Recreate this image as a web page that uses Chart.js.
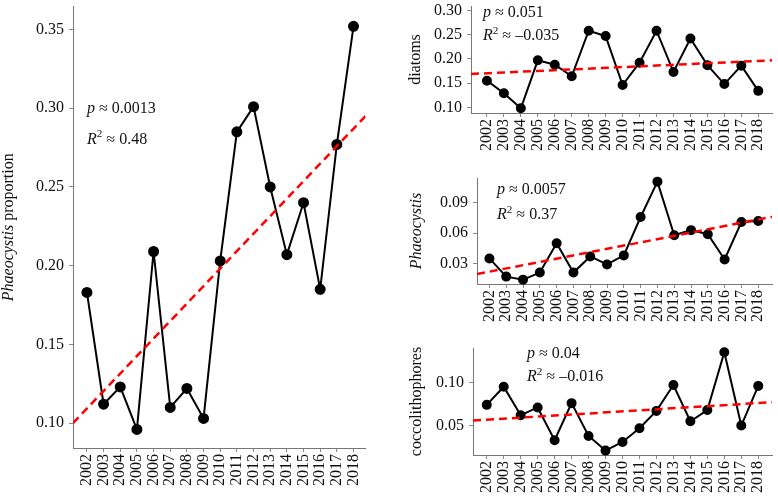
<!DOCTYPE html>
<html>
<head>
<meta charset="utf-8">
<script src="https://cdn.jsdelivr.net/npm/chart.js@4.4.0/dist/chart.umd.min.js"></script>
<style>
  body { margin: 0; background: #fff; }
  #wrap { position: relative; width: 778px; height: 500px; overflow: hidden; }
  canvas { position: absolute; }
</style>
</head>
<body>
<div id="wrap">
  <canvas id="main" width="372" height="500" style="left:0;top:0"></canvas>
  <canvas id="diat" width="378" height="165" style="left:400px;top:0"></canvas>
  <canvas id="phaeo" width="378" height="165" style="left:400px;top:165px"></canvas>
  <canvas id="cocco" width="378" height="170" style="left:400px;top:330px"></canvas>
</div>
<script>
// data
const years = [2002, 2003, 2004, 2005, 2006, 2007, 2008, 2009, 2010, 2011, 2012, 2013, 2014, 2015, 2016, 2017, 2018];

const phaeoProportion = [0.183, 0.112, 0.123, 0.096, 0.209, 0.110, 0.122, 0.103, 0.203, 0.285, 0.301, 0.250, 0.207, 0.240, 0.185, 0.277, 0.352];
const diatoms = [0.155, 0.129, 0.098, 0.197, 0.188, 0.164, 0.258, 0.247, 0.146, 0.192, 0.258, 0.173, 0.242, 0.187, 0.148, 0.186, 0.134];
const phaeocystis = [0.035, 0.017, 0.014, 0.021, 0.050, 0.021, 0.037, 0.029, 0.038, 0.076, 0.111, 0.058, 0.063, 0.059, 0.034, 0.071, 0.072];
const coccolithophores = [0.074, 0.095, 0.062, 0.071, 0.033, 0.076, 0.038, 0.021, 0.031, 0.047, 0.067, 0.097, 0.055, 0.068, 0.135, 0.050, 0.096];

// fitted trend value at first and last year
const trendProportion = [0.1093, 0.287];
const trendDiatoms = [0.1703, 0.1957];
const trendPhaeocystis = [0.0219, 0.0735];
const trendCocco = [0.0568, 0.0761];

const statsProportion = ['0.0013', '0.48'];
const statsDiatoms = ['0.051', '\u20130.035'];
const statsPhaeocystis = ['0.0057', '0.37'];
const statsCocco = ['0.04', '\u20130.016'];

const FONT = "'Liberation Serif', 'DejaVu Serif', serif";
const SIZE = 16;

function trendAt(x, t) {
    return t[0] + (t[1] - t[0]) * (x - years[0]) / (years[years.length - 1] - years[0]);
}

function partsWidth(ctx, parts, size) {
    let w = 0;
    parts.forEach(p => {
        ctx.font = (p.italic ? 'italic ' : '') + (p.sup ? size * 0.7 : size) + 'px ' + FONT;
        w += ctx.measureText(p.text).width;
    });
    return w;
}

function drawRich(ctx, x, y, parts, size) {
    let cx = x;
    parts.forEach(p => {
        const s = p.sup ? size * 0.7 : size;
        ctx.font = (p.italic ? 'italic ' : '') + s + 'px ' + FONT;
        ctx.fillText(p.text, cx, p.sup ? y - size * 0.33 : y);
        cx += ctx.measureText(p.text).width;
    });
}

function makePanel(id, cfg) {
    const points = years.map((yr, i) => ({ x: yr, y: cfg.values[i] }));
    const trend = [cfg.xMin, cfg.xMax].map(x => ({ x: x, y: trendAt(x, cfg.trend) }));

    const labelPlugin = {
        id: 'labels',
        afterDraw(chart) {
            const ctx = chart.ctx;
            const area = chart.chartArea;
            ctx.save();
            ctx.fillStyle = '#111';
            ctx.textBaseline = 'middle';
            ctx.textAlign = 'left';
            // rotated y title
            const tw = partsWidth(ctx, cfg.title, SIZE);
            ctx.save();
            ctx.translate(cfg.titleX, (area.top + area.bottom) / 2);
            ctx.rotate(-Math.PI / 2);
            drawRich(ctx, -tw / 2, 0, cfg.title, SIZE);
            ctx.restore();
            // p and R^2
            const ax = area.left + cfg.note[0];
            const ay = area.top + cfg.note[1];
            drawRich(ctx, ax, ay, [{ text: 'p', italic: true }, { text: ' \u2248 ' + cfg.stats[0] }], SIZE);
            drawRich(ctx, ax, ay + cfg.note[2], [{ text: 'R', italic: true }, { text: '2', sup: true }, { text: ' \u2248 ' + cfg.stats[1] }], SIZE);
            ctx.restore();
        }
    };

    new Chart(document.getElementById(id), {
        type: 'line',
        data: {
            datasets: [{
                data: trend,
                borderColor: '#ff0000',
                borderWidth: 2.5,
                borderDash: [8, 5],
                pointRadius: 0,
                fill: false
            }, {
                data: points,
                borderColor: '#000',
                borderWidth: 2,
                pointRadius: cfg.radius,
                pointBackgroundColor: '#000',
                pointBorderColor: '#000',
                tension: 0,
                fill: false,
                clip: false
            }]
        },
        options: {
            responsive: false,
            animation: false,
            events: [],
            layout: { padding: { left: 0, top: cfg.padTop, right: cfg.padRight, bottom: 0 } },
            plugins: { legend: { display: false }, tooltip: { enabled: false } },
            scales: {
                x: {
                    type: 'linear',
                    min: cfg.xMin,
                    max: cfg.xMax,
                    border: { display: true, color: '#777', width: 1 },
                    grid: { display: true, drawOnChartArea: false, drawTicks: true, tickLength: 4, color: '#888' },
                    ticks: {
                        stepSize: 1,
                        includeBounds: false,
                        autoSkip: false,
                        minRotation: 90,
                        maxRotation: 90,
                        padding: 2,
                        color: '#111',
                        font: { family: FONT, size: SIZE },
                        callback: v => {
                            const i = years.indexOf(v);
                            return i >= 0 ? String(years[i]) : '';
                        }
                    },
                    afterFit: axis => {
                        axis.height = cfg.xAxisH;
                        axis.paddingLeft = 0;
                        axis.paddingRight = 0;
                    }
                },
                y: {
                    min: cfg.yMin,
                    max: cfg.yMax,
                    border: { display: true, color: '#777', width: 1 },
                    grid: { display: true, drawOnChartArea: false, drawTicks: true, tickLength: 4, color: '#888' },
                    ticks: {
                        stepSize: cfg.yStep,
                        includeBounds: false,
                        padding: 5,
                        color: '#111',
                        font: { family: FONT, size: SIZE },
                        callback: v => v.toFixed(2)
                    },
                    afterFit: axis => {
                        axis.width = cfg.yAxisW;
                        axis.paddingTop = 0;
                        axis.paddingBottom = 0;
                    }
                }
            }
        },
        plugins: [labelPlugin]
    });
}

makePanel('main', {
    values: phaeoProportion, trend: trendProportion, stats: statsProportion,
    xMin: 2001.164, xMax: 2018.72, yMin: 0.0842, yMax: 0.3646, yStep: 0.05,
    yAxisW: 73, xAxisH: 52, padTop: 5, padRight: 5, radius: 4.5,
    title: [{ text: 'Phaeocystis', italic: true }, { text: ' proportion' }], titleX: 9,
    note: [14, 102, 31]
});

makePanel('diat', {
    values: diatoms, trend: trendDiatoms, stats: statsDiatoms,
    xMin: 2001.06, xMax: 2018.81, yMin: 0.0883, yMax: 0.309, yStep: 0.05,
    yAxisW: 71, xAxisH: 52, padTop: 5, padRight: 0, radius: 4,
    title: [{ text: 'diatoms' }], titleX: 16,
    note: [12, 7, 23]
});

makePanel('phaeo', {
    values: phaeocystis, trend: trendPhaeocystis, stats: statsPhaeocystis,
    xMin: 2001.26, xMax: 2018.82, yMin: 0.0097, yMax: 0.1146, yStep: 0.03,
    yAxisW: 77, xAxisH: 46, padTop: 13, padRight: 0, radius: 4,
    title: [{ text: 'Phaeocystis', italic: true }], titleX: 17,
    note: [20, 12, 25]
});

makePanel('cocco', {
    values: coccolithophores, trend: trendCocco, stats: statsCocco,
    xMin: 2001.19, xMax: 2018.81, yMin: 0.0159, yMax: 0.1399, yStep: 0.05,
    yAxisW: 73, xAxisH: 45, padTop: 18, padRight: 0, radius: 4,
    title: [{ text: 'coccolithophores' }], titleX: 17,
    note: [54, 6, 23]
});
</script>
</body>
</html>
